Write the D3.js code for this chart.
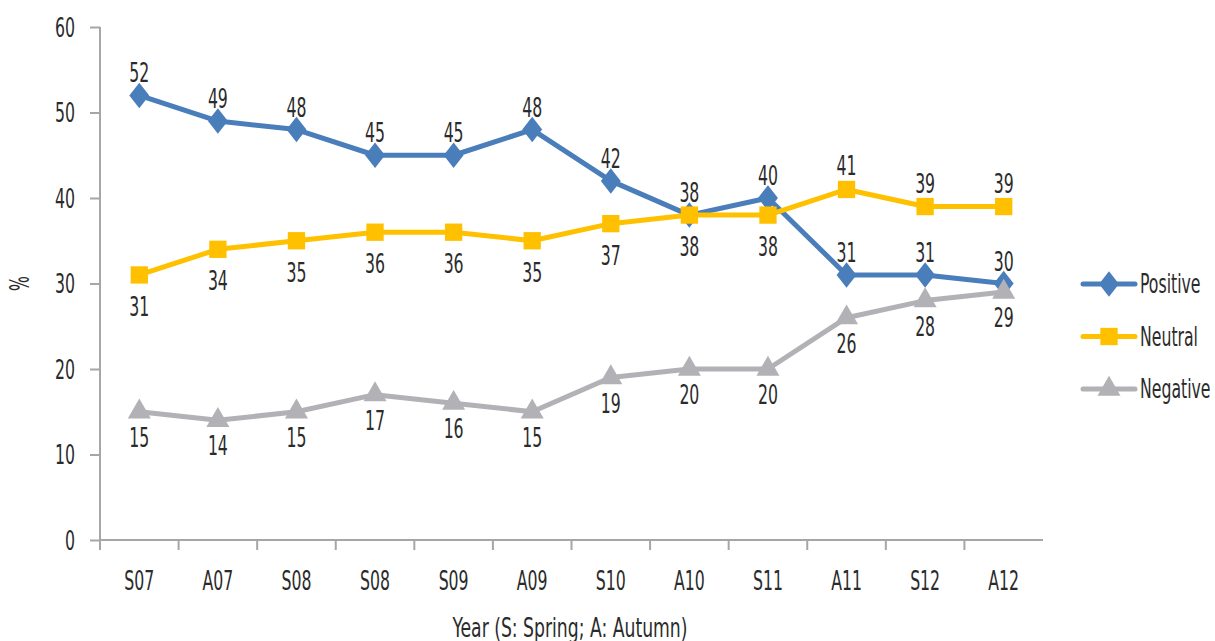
<!DOCTYPE html>
<html>
<head>
<meta charset="utf-8">
<script src="https://cdn.jsdelivr.net/npm/d3@7"></script>
<style>
  body { margin: 0; background: #fff; }
  svg text { font-family: "DejaVu Sans Condensed", "DejaVu Sans", sans-serif; font-stretch: condensed; fill: #2b2b2b; font-size: 26px; }
</style>
</head>
<body>
<svg id="chart" width="1215" height="641"></svg>
<script>
// data
var years = ["S07", "A07", "S08", "S08", "S09", "A09", "S10", "A10", "S11", "A11", "S12", "A12"];
var positive = [52, 49, 48, 45, 45, 48, 42, 38, 40, 31, 31, 30];
var neutral  = [31, 34, 35, 36, 36, 35, 37, 38, 38, 41, 39, 39];
var negative = [15, 14, 15, 17, 16, 15, 19, 20, 20, 26, 28, 29];
// label above (1) or below (-1) the point
var posSide = [1, 1, 1, 1, 1, 1, 1, 1, 1, 1, 1, 1];
var neuSide = [-1, -1, -1, -1, -1, -1, -1, -1, -1, 1, 1, 1];
var negSide = [-1, -1, -1, -1, -1, -1, -1, -1, -1, -1, -1, -1];
var yTicks = [0, 10, 20, 30, 40, 50, 60];

var series = [
    {name: "Positive", values: positive, side: posSide, color: "#4a7ebb", symbol: d3.symbolDiamond, size: 260, above: -13, below: 38},
    {name: "Neutral", values: neutral, side: neuSide, color: "#ffc000", symbol: d3.symbolSquare, size: 300, above: -14, below: 41},
    {name: "Negative", values: negative, side: negSide, color: "#b2b2b6", symbol: d3.symbolTriangle, size: 230, above: -14, below: 35}
];

var svg = d3.select("#chart");
var mLeft = 100, mRight = 1043, mTop = 27, mBottom = 540;

// the font in the picture is very narrow: squeeze text so a digit is ~10px wide
var probe = svg.append("text").text("0000000000");
var sx = 100 / probe.node().getComputedTextLength();
probe.remove();

function squeeze(sel) {
    sel.each(function() {
        var t = d3.select(this);
        var xv = +t.attr("x") || 0;
        var yv = +t.attr("y") || 0;
        t.attr("x", null).attr("y", null)
            .attr("transform", "translate(" + xv + "," + yv + ") scale(" + sx + ",1)");
    });
}

var x = d3.scaleBand()
    .domain(d3.range(years.length))
    .range([mLeft, mRight]);
var y = d3.scaleLinear()
    .domain([0, 60])
    .range([mBottom, mTop]);

// y axis
var yAxis = svg.append("g")
    .attr("transform", "translate(" + mLeft + ",0)")
    .call(d3.axisLeft(y).tickValues(yTicks).tickSize(10).tickPadding(15));
yAxis.selectAll(".tick text").attr("dy", null).attr("y", 9);
// x axis
var xAxis = svg.append("g")
    .attr("transform", "translate(0," + mBottom + ")")
    .call(d3.axisBottom(x).tickFormat(function(i) { return years[i]; }).tickSize(0).tickPadding(30));
xAxis.selectAll(".tick text").attr("dy", null).attr("y", 50);
xAxis.selectAll(".tick")
    .append("line")
    .attr("x1", -x.bandwidth() / 2).attr("x2", -x.bandwidth() / 2)
    .attr("y1", 0).attr("y2", 10);
xAxis.append("line")
    .attr("x1", mRight).attr("x2", mRight)
    .attr("y1", 0).attr("y2", 10);

svg.selectAll(".domain, .tick line")
    .attr("stroke", "#a6a6a6")
    .attr("stroke-width", 2);
svg.selectAll(".tick text")
    .attr("fill", "#2b2b2b");
yAxis.attr("font-size", null).attr("font-family", null);
xAxis.attr("font-size", null).attr("font-family", null);
squeeze(svg.selectAll(".tick text"));
yAxis.selectAll(".domain").attr("d", "M0," + mTop + "V" + mBottom);
xAxis.selectAll(".domain").attr("d", "M" + mLeft + ",0H" + mRight);

// axis titles
svg.append("text")
    .attr("transform", "translate(29," + y(30) + ") rotate(-90) scale(" + sx + ",1)")
    .attr("text-anchor", "middle")
    .text("%");
var title = svg.append("text")
    .attr("x", 570)
    .attr("y", 637)
    .attr("text-anchor", "middle")
    .text("Year (S: Spring; A: Autumn)");
title.attr("transform", "translate(570,637) scale(" + (235 / title.node().getComputedTextLength()) + ",1)")
    .attr("x", null).attr("y", null);

var cx = function(i) { return x(i) + x.bandwidth() / 2; };
var line = d3.line()
    .x(function(d, i) { return cx(i); })
    .y(function(d) { return y(d); });

series.forEach(function(s) {
    var g = svg.append("g");
    g.append("path")
        .datum(s.values)
        .attr("d", line)
        .attr("fill", "none")
        .attr("stroke", s.color)
        .attr("stroke-width", 5)
        .attr("stroke-linejoin", "round")
        .attr("stroke-linecap", "round");
    g.selectAll(".pt")
        .data(s.values)
        .enter()
        .append("path")
        .attr("class", "pt")
        .attr("d", d3.symbol().type(s.symbol).size(s.size))
        .attr("transform", function(d, i) {
            var sy = s.symbol === d3.symbolDiamond ? "scale(1.15,0.85)" : "";
            return "translate(" + cx(i) + "," + y(d) + ")" + sy;
        })
        .attr("fill", s.color);
    squeeze(g.selectAll(".lbl")
        .data(s.values)
        .enter()
        .append("text")
        .attr("class", "lbl")
        .attr("x", function(d, i) { return cx(i); })
        .attr("y", function(d, i) { return y(d) + (s.side[i] > 0 ? s.above : s.below); })
        .attr("text-anchor", "middle")
        .text(function(d) { return d; }));
});

// legend
var legend = svg.append("g")
    .selectAll("g")
    .data(series)
    .enter()
    .append("g")
    .attr("transform", function(d, i) { return "translate(1083," + (284 + i * 52.5) + ")"; });
legend.append("line")
    .attr("x1", 0).attr("x2", 52)
    .attr("stroke", function(d) { return d.color; })
    .attr("stroke-width", 5)
    .attr("stroke-linecap", "round");
legend.append("path")
    .attr("d", function(d) { return d3.symbol().type(d.symbol).size(d.size)(); })
    .attr("transform", function(d) {
        return "translate(26,0)" + (d.symbol === d3.symbolDiamond ? "scale(1.15,0.85)" : "");
    })
    .attr("fill", function(d) { return d.color; });
squeeze(legend.append("text")
    .attr("x", 57)
    .attr("y", 9)
    .text(function(d) { return d.name; }));
</script>
</body>
</html>
